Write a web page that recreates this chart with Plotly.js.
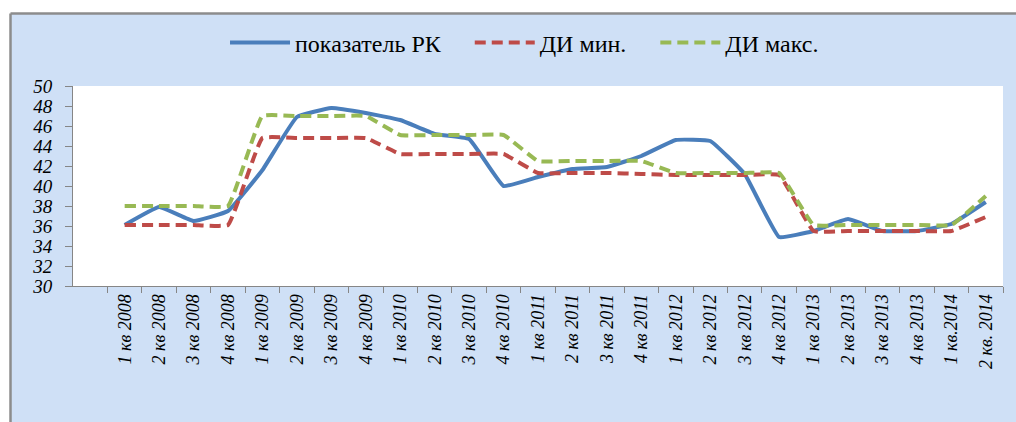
<!DOCTYPE html>
<html>
<head>
<meta charset="utf-8">
<script src="https://cdn.plot.ly/plotly-3.0.1.min.js"></script>
<style>
  html, body { margin: 0; padding: 0; background: #ffffff; }
  #chart { width: 1016px; height: 422px; }
</style>
</head>
<body>
<div id="chart"></div>
<script>
// Quarter labels
var quarters = [
  "1 кв 2008", "2 кв 2008", "3 кв 2008", "4 кв 2008",
  "1 кв 2009", "2 кв 2009", "3 кв 2009", "4 кв 2009",
  "1 кв 2010", "2 кв 2010", "3 кв 2010", "4 кв 2010",
  "1 кв 2011", "2 кв 2011", "3 кв 2011", "4 кв 2011",
  "1 кв 2012", "2 кв 2012", "3 кв 2012", "4 кв 2012",
  "1 кв 2013", "2 кв 2013", "3 кв 2013", "4 кв 2013",
  "1 кв.2014", "2 кв. 2014"
];

// показатель РК
var indicatorRK = [36.1, 37.9, 36.5, 37.5, 41.6, 46.9, 47.8, 47.3,
                   46.6, 45.2, 44.7, 40.0, 40.9, 41.7, 41.9, 43.0,
                   44.6, 44.5, 41.2, 34.9, 35.5, 36.7, 35.5, 35.5,
                   36.2, 38.4];

// ДИ мин.
var ciMin = [36.1, 36.1, 36.1, 36.1, 44.8, 44.8, 44.8, 44.8,
             43.2, 43.2, 43.2, 43.2, 41.3, 41.3, 41.3, 41.2,
             41.1, 41.1, 41.1, 41.1, 35.5, 35.5, 35.5, 35.5,
             35.5, 36.9];

// ДИ макс.
var ciMax = [38.0, 38.0, 38.0, 38.0, 47.0, 47.0, 47.0, 47.0,
             45.1, 45.1, 45.1, 45.1, 42.5, 42.5, 42.5, 42.5,
             41.3, 41.3, 41.3, 41.3, 36.1, 36.1, 36.1, 36.1,
             36.1, 39.0];

var seriesNames = ["показатель РК", "ДИ мин.", "ДИ макс."];

var yTicks = [30, 32, 34, 36, 38, 40, 42, 44, 46, 48, 50];

var frameBlue = "#cfe0f6";
var serif = "Liberation Serif, Times New Roman, serif";
var gapPad = "\u00a0\u00a0\u00a0\u00a0";

var traces = [
  {
    x: quarters, y: indicatorRK, name: seriesNames[0] + gapPad, type: "scatter", mode: "lines",
    line: { color: "#4a7ebb", width: 4, shape: "spline", smoothing: 0.3 }
  },
  {
    x: quarters, y: ciMin, name: seriesNames[1] + gapPad, type: "scatter", mode: "lines",
    line: { color: "#be4b48", width: 4, dash: "11px,6px", shape: "spline", smoothing: 0.3 }
  },
  {
    x: quarters, y: ciMax, name: seriesNames[2], type: "scatter", mode: "lines",
    line: { color: "#98b954", width: 4, dash: "11px,6px", shape: "spline", smoothing: 0.3 }
  }
];

var layout = {
  width: 1016, height: 422,
  margin: { l: 73, r: 13, t: 86, b: 136, pad: 0 },
  paper_bgcolor: frameBlue,
  plot_bgcolor: "#ffffff",
  showlegend: true,
  legend: {
    orientation: "h", x: 0.4855, xanchor: "center", y: 1.215, yanchor: "middle",
    bgcolor: "rgba(0,0,0,0)", font: { family: serif, size: 24, color: "#000000" },
    itemwidth: 60, tracegroupgap: 0
  },
  xaxis: {
    type: "category",
    categoryorder: "array", categoryarray: quarters,
    range: [-1.5, quarters.length - 0.5],
    showgrid: false, zeroline: false,
    showline: true, linecolor: "#868686", linewidth: 1,
    ticks: "outside", ticklen: 6, tickcolor: "#868686", tickson: "boundaries",
    tickangle: -90,
    tickfont: { family: serif, size: 18, color: "#000000", style: "italic" }
  },
  yaxis: {
    range: [30, 50], tickvals: yTicks,
    showgrid: false, zeroline: false,
    showline: true, linecolor: "#868686", linewidth: 1,
    ticks: "outside", ticklen: 7, tickcolor: "#868686",
    ticklabelstandoff: 9,
    tickfont: { family: serif, size: 19, color: "#000000", style: "italic" }
  },
  shapes: [
    // white page area outside the chart frame (top strip and left strip)
    { type: "rect", xref: "paper", yref: "paper", x0: -0.2, x1: 1.1, y0: 1.3625, y1: 1.6,
      fillcolor: "#ffffff", line: { width: 0 }, layer: "below" },
    { type: "rect", xref: "paper", yref: "paper", x0: -0.2, x1: -0.0672, y0: -0.8, y1: 1.6,
      fillcolor: "#ffffff", line: { width: 0 }, layer: "below" },
    // gray frame border
    { type: "line", xref: "paper", yref: "paper", x0: -0.0672, x1: 1.1, y0: 1.3625, y1: 1.3625,
      line: { color: "#8c8c8c", width: 2.5 } },
    { type: "line", xref: "paper", yref: "paper", x0: -0.0672, x1: -0.0672, y0: -0.8, y1: 1.3625,
      line: { color: "#8c8c8c", width: 2.5 } }
  ]
};

Plotly.newPlot("chart", traces, layout, { displayModeBar: false, staticPlot: true });
</script>
</body>
</html>
